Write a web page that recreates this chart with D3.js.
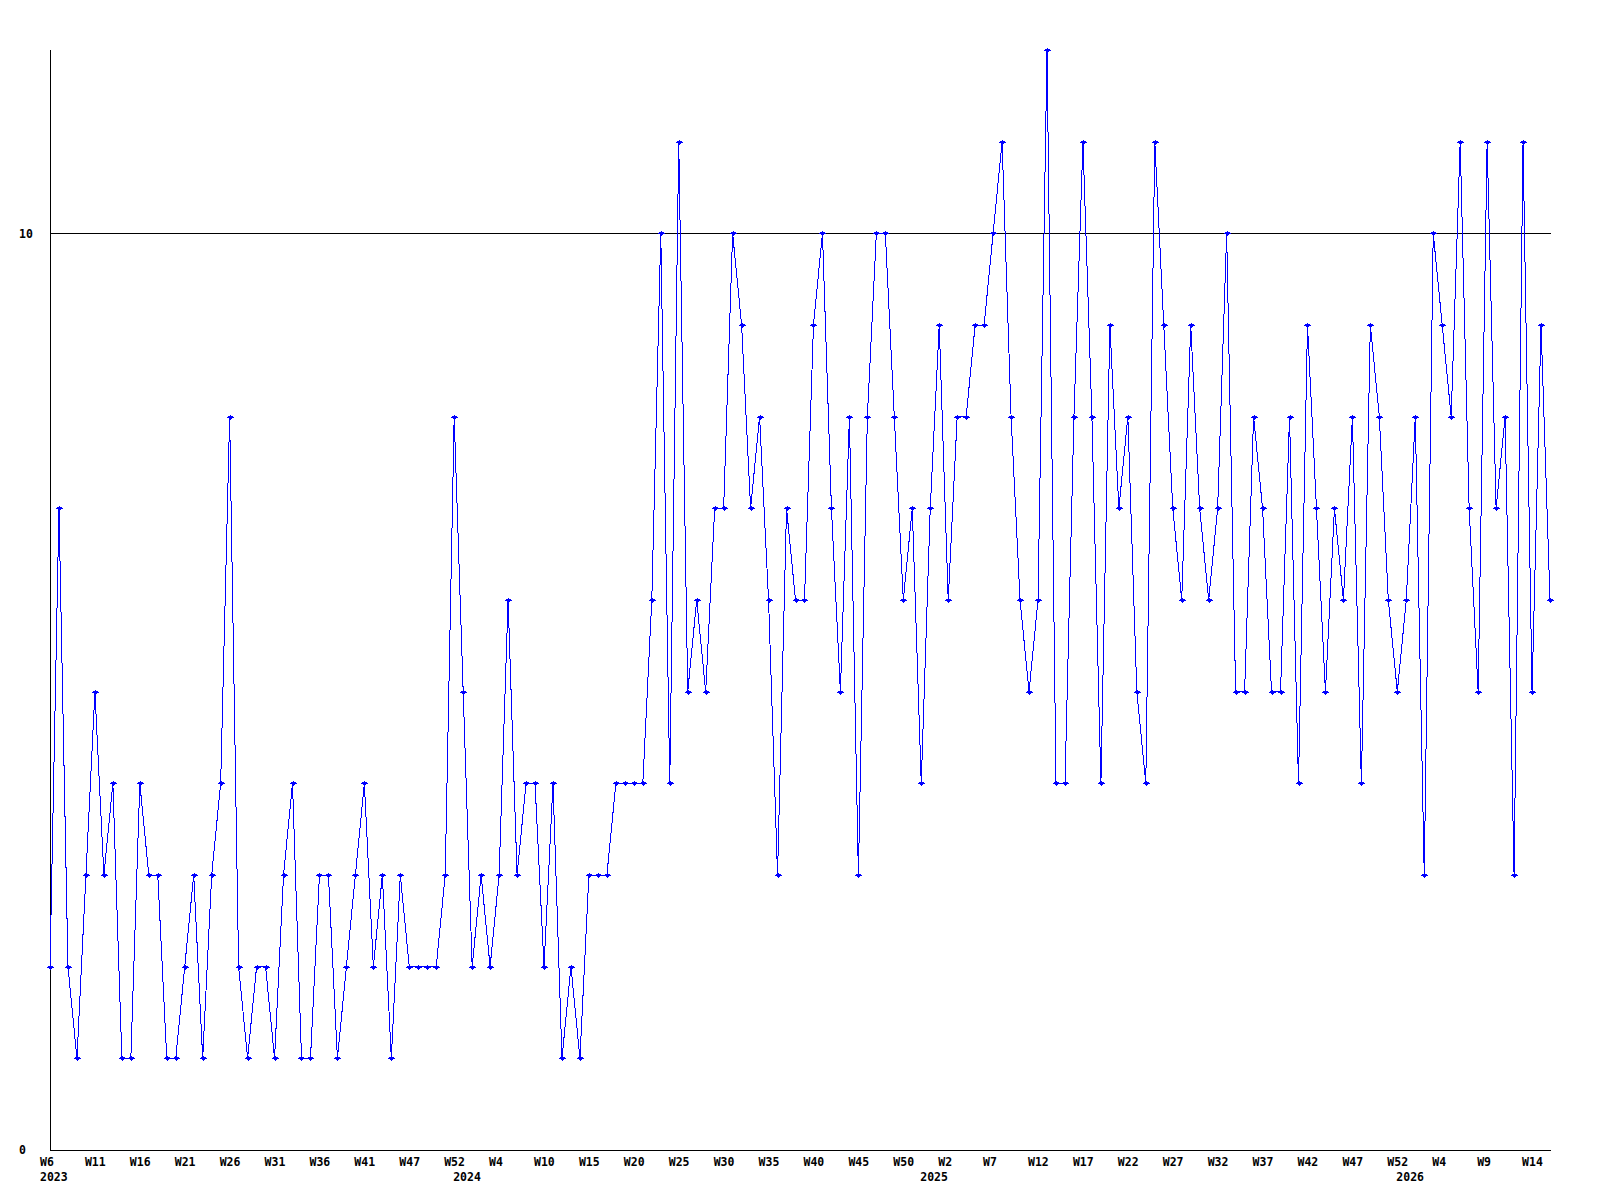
<!DOCTYPE html>
<html>
<head>
  <meta charset="utf-8">
  <script src="https://cdn.jsdelivr.net/npm/d3@7"></script>
  <style>
body {
  margin: 0;
  background: #fff;
}
.labels text {
  font: bold 11.5px "DejaVu Sans Mono", monospace;
  fill: #000;
}
.frame {
  stroke: #000;
  stroke-width: 1px;
  shape-rendering: crispEdges;
}
.series {
  fill: none;
  stroke: #0000ff;
  stroke-width: 1px;
  shape-rendering: crispEdges;
}
.marks {
  fill: #0000ff;
  stroke: #0000ff;
  stroke-width: 1px;
  shape-rendering: crispEdges;
}
  </style>
</head>
<body>
  <svg width="1600" height="1200"></svg>
  <script>

// weekly counts, one per point
const values = [
  2,7,2,1,3,5,3,4,1,1,4,3,3,1,1,2,3,1,3,4,8,2,
  1,2,2,1,3,4,1,1,3,3,1,2,3,4,2,3,1,3,2,2,2,2,
  3,8,5,2,3,2,3,6,3,4,4,2,4,1,2,1,3,3,3,4,4,
  4,4,6,10,4,11,5,6,5,7,7,10,9,7,8,6,3,7,6,6,9,10,
  7,5,8,3,8,10,10,8,6,7,4,7,9,6,8,8,9,9,10,11,8,6,
  5,6,12,4,4,8,11,8,4,9,7,8,5,4,11,9,7,6,9,7,6,
  7,10,5,5,8,7,5,5,8,4,9,7,5,7,6,8,4,9,8,6,5,
  6,8,3,10,9,8,11,7,5,11,7,8,3,11,5,9,6
];

// tick labels, every 5th point
const weekLabels = [
  "W6","W11","W16","W21","W26","W31","W36","W41","W47","W52",
  "W4","W10","W15","W20","W25","W30","W35","W40","W45","W50",
  "W2","W7","W12","W17","W22","W27","W32","W37","W42","W47",
  "W52","W4","W9","W14"
];
const weekIdx = weekLabels.map((d, i) => i * 5);

const yearLabels = ["2023", "2024", "2025", "2026"];
const yearIdx = [0, 46, 98, 151];

const yTicks = [0, 10];

var svg = d3.select("svg");

var x = d3.scaleLinear()
          .domain([0, values.length - 1])
          .range([50, 1550]);

var y = d3.scaleLinear()
          .domain([0, 12])
          .range([1150, 50]);

// frame + line at 10
svg.append("line").attr("class", "frame")
   .attr("x1", 50.5).attr("x2", 50.5)
   .attr("y1", y(12)).attr("y2", y(0));
svg.append("line").attr("class", "frame")
   .attr("x1", 50).attr("x2", 1551)
   .attr("y1", y(0) + 0.5).attr("y2", y(0) + 0.5);
svg.append("line").attr("class", "frame")
   .attr("x1", 50).attr("x2", 1551)
   .attr("y1", Math.round(y(10)) + 0.5).attr("y2", Math.round(y(10)) + 0.5);

var labels = svg.append("g").attr("class", "labels");

var xAxis = d3.axisBottom(x)
              .tickValues(weekIdx)
              .tickFormat((d, i) => weekLabels[i])
              .tickSize(0);

labels.append("g")
      .attr("transform", `translate(0,${y(0)})`)
      .call(xAxis)
      .call(g => g.select(".domain").remove())
      .selectAll("text")
      .attr("font-family", null).attr("font-size", null)
      .attr("text-anchor", "start")
      .attr("x", -10.5)
      .attr("y", 16)
      .attr("dy", null);

var yearAxis = d3.axisBottom(x)
                 .tickValues(yearIdx)
                 .tickFormat((d, i) => yearLabels[i])
                 .tickSize(0);

labels.append("g")
      .attr("transform", `translate(0,${y(0)})`)
      .call(yearAxis)
      .call(g => g.select(".domain").remove())
      .selectAll("text")
      .attr("font-family", null).attr("font-size", null)
      .attr("text-anchor", "start")
      .attr("x", -10.5)
      .attr("y", 31)
      .attr("dy", null);

var yAxis = d3.axisLeft(y)
              .tickValues(yTicks)
              .tickFormat(d3.format("d"))
              .tickSize(0);

labels.append("g")
      .attr("transform", "translate(50,0)")
      .call(yAxis)
      .call(g => g.select(".domain").remove())
      .selectAll("text")
      .attr("font-family", null).attr("font-size", null)
      .attr("text-anchor", "start")
      .attr("x", -31)
      .attr("dy", "0.32em");

// the series
var line = d3.line()
             .x((d, i) => x(i))
             .y(d => y(d));

svg.append("path")
   .attr("class", "series")
   .attr("d", line(values));

// small diamond + cross at each point
svg.append("g")
   .attr("class", "marks")
   .selectAll("path")
   .data(values)
   .enter().append("path")
   .attr("d", (d, i) => {
     var cx = Math.round(x(i)) + 0.5, cy = Math.round(y(d)) + 0.5;
     return `M${cx - 2.5},${cy}L${cx},${cy - 2}L${cx + 2.5},${cy}L${cx},${cy + 1.5}Z`;
   });

</script>
</body>
</html>
